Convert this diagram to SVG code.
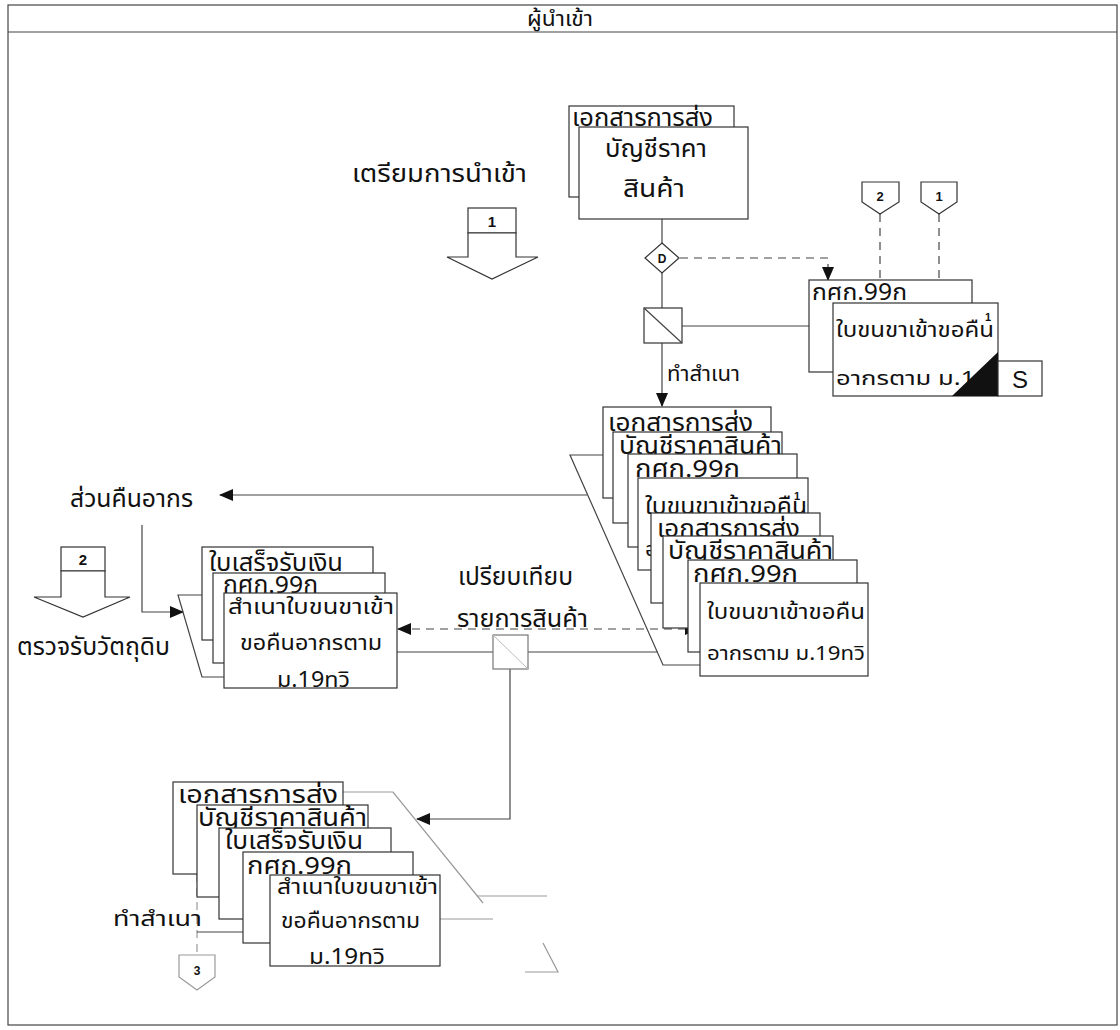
<svg xmlns="http://www.w3.org/2000/svg" width="1120" height="1030" viewBox="0 0 1120 1030">
<defs>
<style>
.box{fill:#fff;stroke:#333;stroke-width:1.2}
.ln{fill:none;stroke:#444;stroke-width:1.2}
.fa{fill:none;stroke:#999;stroke-width:1.2}
.dash{stroke-dasharray:8 6}
.t{font-family:"Noto Sans Thai","Noto Sans","DejaVu Sans",sans-serif;fill:#111}
.b{font-family:"Liberation Sans",Arial,sans-serif;font-weight:bold;fill:#111}
</style>
<marker id="ah" markerWidth="14" markerHeight="12" refX="13" refY="6" orient="auto-start-reverse" markerUnits="userSpaceOnUse"><path d="M0,0 L14,6 L0,12 z" fill="#111"/></marker>
</defs>
<rect x="0" y="0" width="1120" height="1030" fill="#fff"/>
<g id="frame">
<rect x="8" y="5" width="1109" height="1020" class="ln"/>
<line x1="8" y1="32" x2="1117" y2="32" class="ln"/>
<text x="527" y="26" class="t" font-size="22" textLength="66" lengthAdjust="spacingAndGlyphs">ผู้นำเข้า</text>
</g>
<g id="connectors">
<line x1="662" y1="219" x2="662" y2="243" class="ln"/>
<line x1="662" y1="273" x2="662" y2="308" class="ln"/>
<line x1="682" y1="326" x2="809" y2="326" class="ln"/>
<line x1="662" y1="343" x2="662" y2="406" class="ln" marker-end="url(#ah)"/>
<polyline points="680,258 828,258 828,280" class="ln dash" marker-end="url(#ah)"/>
<line x1="880" y1="214" x2="880" y2="280" class="ln dash"/>
<line x1="939" y1="214" x2="939" y2="280" class="ln dash"/>
<line x1="587" y1="495" x2="220" y2="495" class="ln" marker-end="url(#ah)"/>
<polyline points="142,525 142,612 183,612" class="ln" marker-end="url(#ah)"/>
<line x1="398" y1="629" x2="698" y2="629" class="ln dash" marker-start="url(#ah)" marker-end="url(#ah)"/>
<line x1="397" y1="652" x2="493" y2="652" class="ln"/>
<line x1="528" y1="652" x2="658" y2="652" class="ln"/>
<polyline points="510,669 510,819 417,819" class="ln" marker-end="url(#ah)"/>
<line x1="197" y1="874" x2="197" y2="955" class="fa dash"/>
</g>
<g id="prep">
<text x="352" y="182" class="t" font-size="24" textLength="175" lengthAdjust="spacingAndGlyphs">เตรียมการนำเข้า</text>
</g>
<g id="blockarrow1">
<rect x="468" y="208" width="48" height="25" class="box"/>
<polygon points="468,233 468,257 447,257 492,279 538,257 516,257 516,233" class="box"/>
<text x="492" y="227" class="b" font-size="15" text-anchor="middle">1</text>
</g>
<g id="topdocs">
<rect x="569" y="106" width="165" height="91" class="box"/>
<text x="572" y="126" class="t" font-size="24" textLength="141" lengthAdjust="spacingAndGlyphs">เอกสารการส่ง</text>
<rect x="579" y="127" width="169" height="92" class="box"/>
<text x="605" y="157" class="t" font-size="24" textLength="102" lengthAdjust="spacingAndGlyphs">บัญชีราคา</text>
<text x="623" y="197" class="t" font-size="24" textLength="62" lengthAdjust="spacingAndGlyphs">สินค้า</text>
</g>
<g id="decision">
<polygon points="662,243 679,258 662,273 645,258" class="box"/>
<text x="662" y="263" class="b" font-size="12" text-anchor="middle">D</text>
</g>
<g id="copy1">
<rect x="644" y="308" width="38" height="35" class="box"/>
<line x1="644" y1="308" x2="682" y2="343" class="ln"/>
<text x="667" y="381" class="t" font-size="22" textLength="73" lengthAdjust="spacingAndGlyphs">ทำสำเนา</text>
</g>
<g id="offpage2">
<polygon points="862,182 899,182 899,202 880,214 862,202" class="box"/>
<text x="880" y="201" class="b" font-size="13" text-anchor="middle">2</text>
</g>
<g id="offpage1">
<polygon points="921,182 957,182 957,202 939,214 921,202" class="box"/>
<text x="939" y="201" class="b" font-size="13" text-anchor="middle">1</text>
</g>
<g id="rightdocs">
<rect x="809" y="280" width="163" height="92" class="box"/>
<text x="812" y="300" class="t" font-size="23" textLength="95" lengthAdjust="spacingAndGlyphs">กศก.99ก</text>
<rect x="833" y="303" width="165" height="93" class="box"/>
<text x="836" y="337" class="t" font-size="22" textLength="158" lengthAdjust="spacingAndGlyphs">ใบขนขาเข้าขอคืน</text>
<text x="985" y="321" class="b" font-size="11">1</text>
<text x="836" y="385" class="t" font-size="20" textLength="182" lengthAdjust="spacingAndGlyphs">อากรตาม ม.19ทวิ</text>
<polygon points="952,396 998,396 998,352" fill="#111"/>
<rect x="998" y="361" width="44" height="35" class="box"/>
<text x="1020" y="388" class="b" font-weight="normal" font-size="24" text-anchor="middle" style="font-weight:normal">S</text>
</g>
<g id="midstack">
<polyline points="603,455 570,455 663,665 700,665" class="ln"/>
<rect x="603" y="407" width="168" height="91" class="box"/>
<text x="608" y="431" class="t" font-size="24" textLength="145" lengthAdjust="spacingAndGlyphs">เอกสารการส่ง</text>
<rect x="613" y="432" width="169" height="91" class="box"/>
<text x="619" y="454" class="t" font-size="24" textLength="163" lengthAdjust="spacingAndGlyphs">บัญชีราคาสินค้า</text>
<rect x="628" y="454" width="169" height="93" class="box"/>
<text x="635" y="477" class="t" font-size="24" textLength="105" lengthAdjust="spacingAndGlyphs">กศก.99ก</text>
<rect x="638" y="478" width="170" height="92" class="box"/>
<text x="645" y="514" class="t" font-size="23" textLength="162" lengthAdjust="spacingAndGlyphs">ใบขนขาเข้าขอคืน</text>
<text x="794" y="500" class="b" font-size="11">1</text>
<text x="645" y="556" class="t" font-size="20" textLength="160" lengthAdjust="spacingAndGlyphs">อากรตาม ม.19ทวิ</text>
<rect x="651" y="513" width="169" height="90" class="box"/>
<text x="657" y="537" class="t" font-size="24" textLength="143" lengthAdjust="spacingAndGlyphs">เอกสารการส่ง</text>
<rect x="663" y="536" width="170" height="92" class="box"/>
<text x="668" y="559" class="t" font-size="24" textLength="165" lengthAdjust="spacingAndGlyphs">บัญชีราคาสินค้า</text>
<rect x="688" y="560" width="169" height="92" class="box"/>
<text x="693" y="582" class="t" font-size="24" textLength="105" lengthAdjust="spacingAndGlyphs">กศก.99ก</text>
<rect x="700" y="583" width="168" height="93" class="box"/>
<text x="707" y="619" class="t" font-size="22" textLength="158" lengthAdjust="spacingAndGlyphs">ใบขนขาเข้าขอคืน</text>
<text x="707" y="660" class="t" font-size="20" textLength="158" lengthAdjust="spacingAndGlyphs">อากรตาม ม.19ทวิ</text>
</g>
<g id="refund">
<text x="70" y="507" class="t" font-size="24" textLength="123" lengthAdjust="spacingAndGlyphs">ส่วนคืนอากร</text>
</g>
<g id="blockarrow2">
<rect x="61" y="547" width="44" height="24" class="box"/>
<polygon points="61,571 61,597 34,597 83,617 130,597 105,597 105,571" class="box"/>
<text x="83" y="565" class="b" font-size="15" text-anchor="middle">2</text>
<text x="17" y="655" class="t" font-size="24" textLength="153" lengthAdjust="spacingAndGlyphs">ตรวจรับวัตถุดิบ</text>
</g>
<g id="leftstack">
<polyline points="202,595 178,595 202,677 224,677" class="ln"/>
<rect x="202" y="547" width="171" height="93" class="box"/>
<text x="209" y="571" class="t" font-size="24" textLength="134" lengthAdjust="spacingAndGlyphs">ใบเสร็จรับเงิน</text>
<rect x="213" y="573" width="172" height="90" class="box"/>
<text x="223" y="593" class="t" font-size="24" textLength="95" lengthAdjust="spacingAndGlyphs">กศก.99ก</text>
<rect x="224" y="593" width="173" height="95" class="box"/>
<text x="228" y="614" class="t" font-size="22" textLength="166" lengthAdjust="spacingAndGlyphs">สำเนาใบขนขาเข้า</text>
<text x="240" y="650" class="t" font-size="22" textLength="142" lengthAdjust="spacingAndGlyphs">ขอคืนอากรตาม</text>
<text x="277" y="687" class="t" font-size="22" textLength="73" lengthAdjust="spacingAndGlyphs">ม.19ทวิ</text>
</g>
<g id="compare">
<text x="458" y="585" class="t" font-size="24" textLength="115" lengthAdjust="spacingAndGlyphs">เปรียบเทียบ</text>
<text x="457" y="627" class="t" font-size="24" textLength="131" lengthAdjust="spacingAndGlyphs">รายการสินค้า</text>
<rect x="493" y="635" width="35" height="34" fill="#fff" stroke="#777" stroke-width="1.2"/>
<line x1="493" y1="635" x2="528" y2="669" stroke="#bbb" stroke-width="1"/>
</g>
<g id="bottomstack">
<polyline points="343,792 393,792 483,903" class="fa" stroke="#666"/>
<line x1="477" y1="896" x2="547" y2="896" class="fa"/>
<line x1="440" y1="919" x2="493" y2="919" class="fa"/>
<polyline points="543,943 558,972 525,972" class="fa"/>
<line x1="197" y1="932" x2="243" y2="932" class="ln"/>
<rect x="173" y="782" width="170" height="92" class="box"/>
<text x="178" y="803" class="t" font-size="24" textLength="160" lengthAdjust="spacingAndGlyphs">เอกสารการส่ง</text>
<rect x="197" y="805" width="171" height="92" class="box"/>
<text x="198" y="826" class="t" font-size="24" textLength="169" lengthAdjust="spacingAndGlyphs">บัญชีราคาสินค้า</text>
<rect x="219" y="828" width="172" height="91" class="box"/>
<text x="225" y="849" class="t" font-size="24" textLength="138" lengthAdjust="spacingAndGlyphs">ใบเสร็จรับเงิน</text>
<rect x="243" y="852" width="170" height="91" class="box"/>
<text x="247" y="874" class="t" font-size="24" textLength="105" lengthAdjust="spacingAndGlyphs">กศก.99ก</text>
<rect x="270" y="875" width="170" height="91" class="box"/>
<text x="277" y="894" class="t" font-size="22" textLength="161" lengthAdjust="spacingAndGlyphs">สำเนาใบขนขาเข้า</text>
<text x="281" y="928" class="t" font-size="22" textLength="139" lengthAdjust="spacingAndGlyphs">ขอคืนอากรตาม</text>
<text x="309" y="964" class="t" font-size="22" textLength="76" lengthAdjust="spacingAndGlyphs">ม.19ทวิ</text>
<text x="113" y="926" class="t" font-size="22" textLength="89" lengthAdjust="spacingAndGlyphs">ทำสำเนา</text>
</g>
<g id="offpage3">
<polygon points="179,955 215,955 215,977 197,990 179,977" fill="#fff" stroke="#999" stroke-width="1.2"/>
<text x="197" y="975" class="b" font-size="12" text-anchor="middle">3</text>
</g>
</svg>
